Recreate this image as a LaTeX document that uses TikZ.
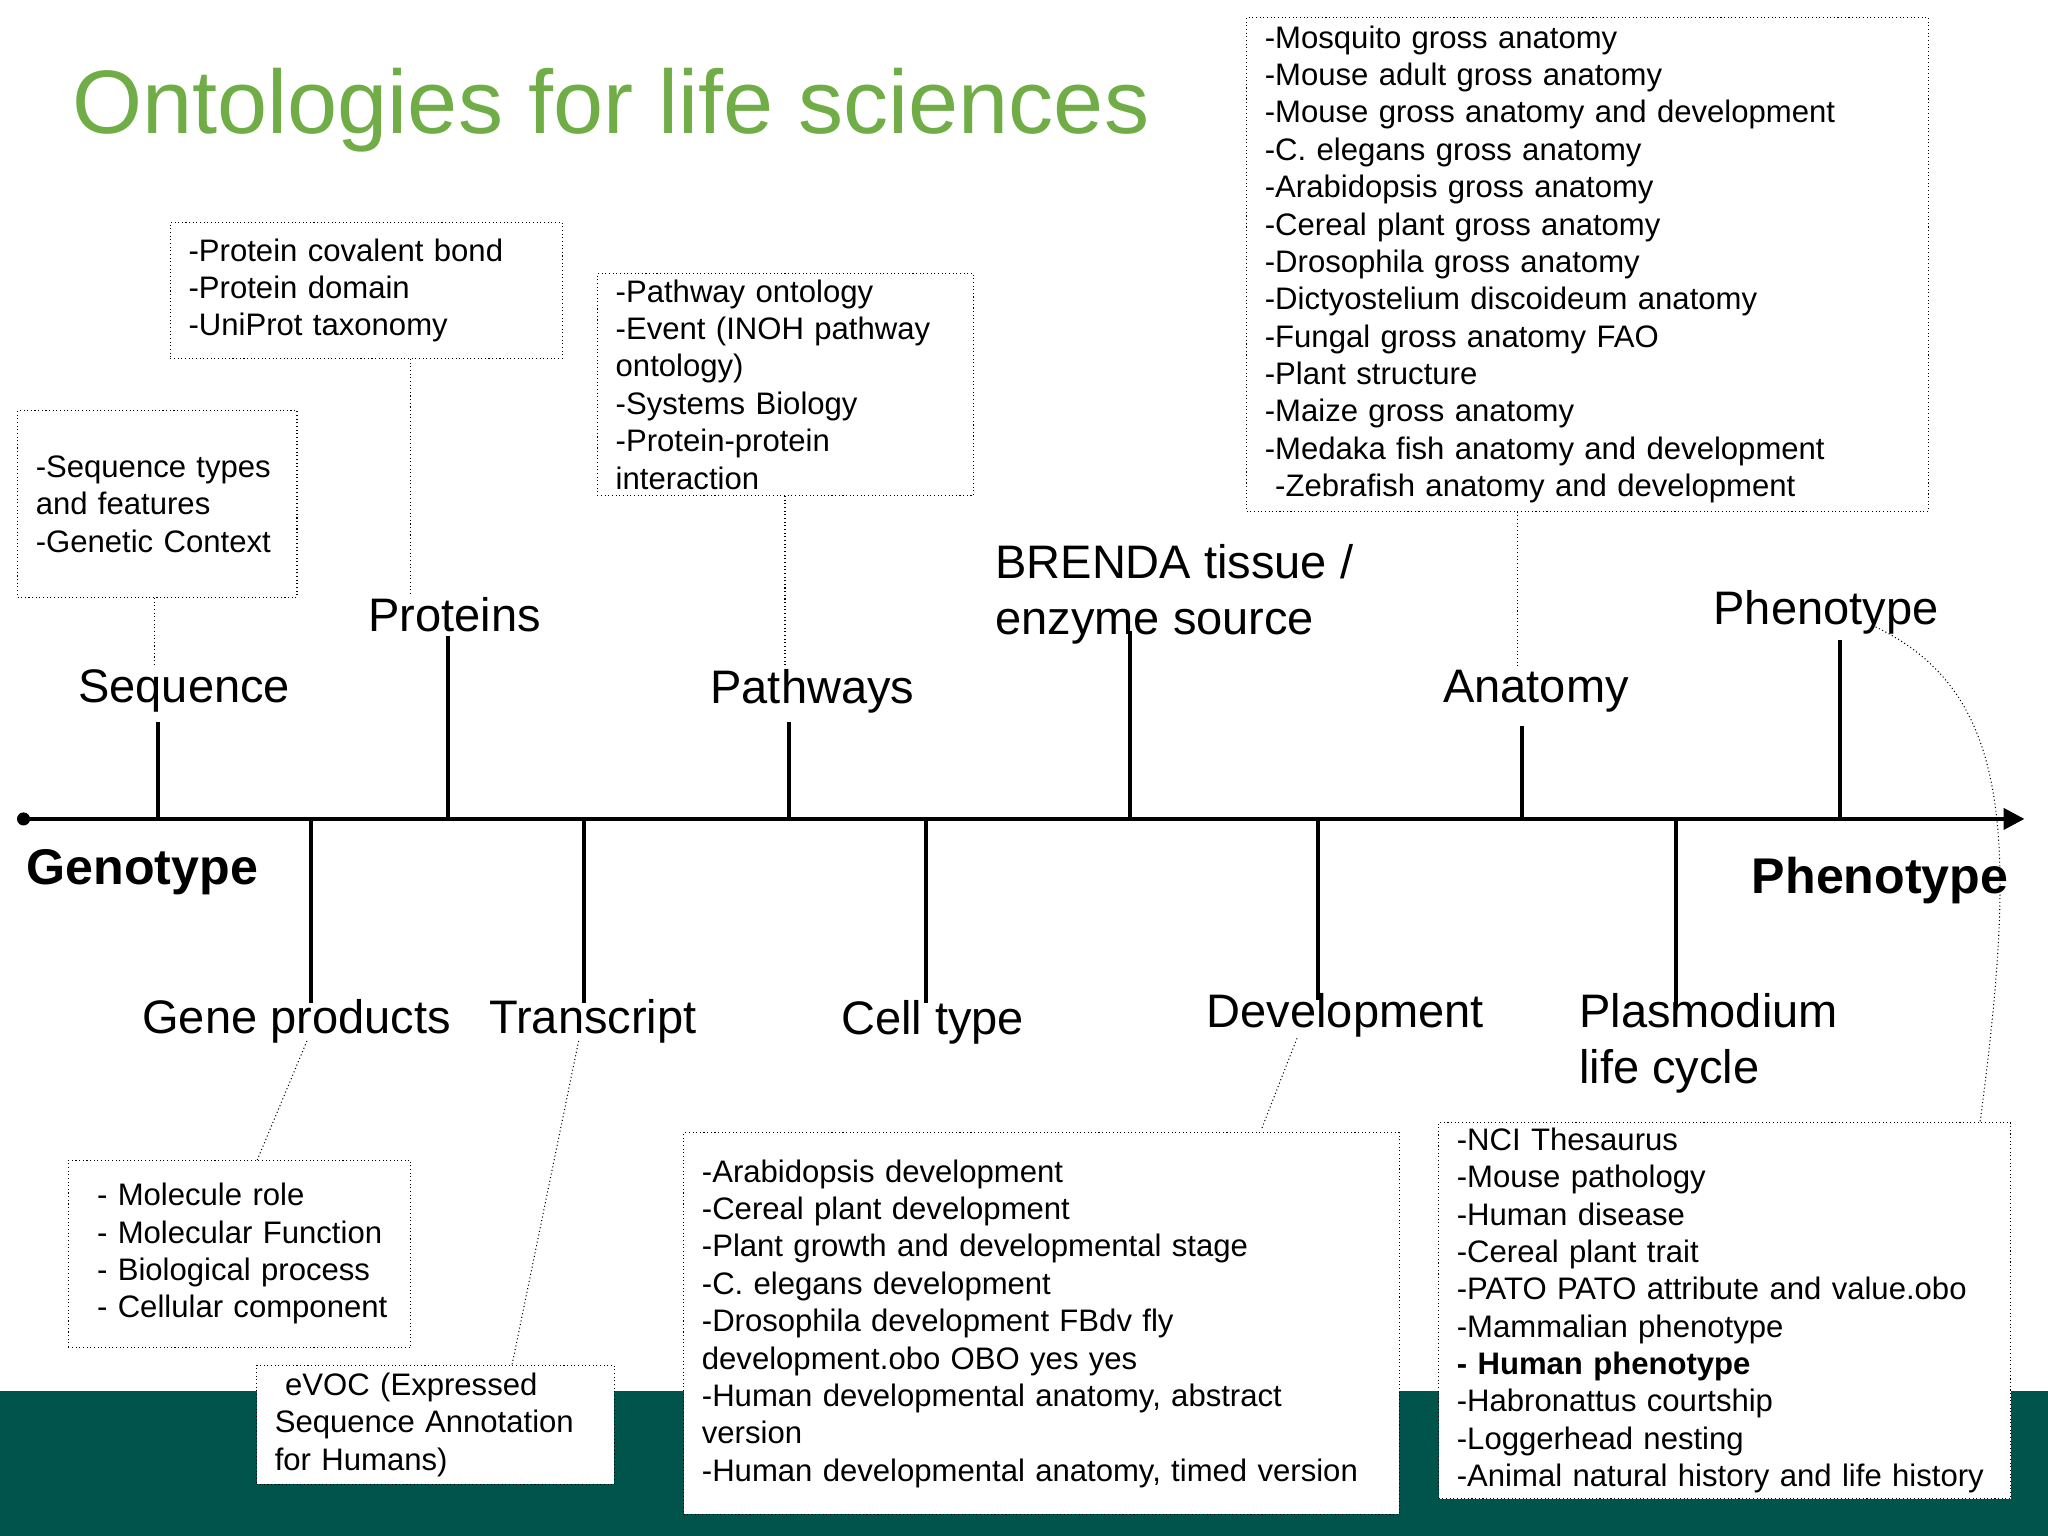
\documentclass[tikz,border=0pt]{standalone}
\usepackage{fontspec}
\setmainfont{Liberation Sans}
\usetikzlibrary{arrows.meta}
\definecolor{titlegreen}{RGB}{112,173,71}
\definecolor{band}{RGB}{0,84,75}
\begin{document}
\begin{tikzpicture}[x=0.5pt,y=-0.5pt,
  listbox/.style={draw,densely dotted,fill=white,anchor=north west,align=left,inner xsep=7pt,inner ysep=0pt,font=\fontsize{11.9}{14.3}\selectfont},
  lab/.style={font=\fontsize{18}{21.5}\selectfont},
  tick/.style={line width=1.6pt},
  conn/.style={densely dotted,thin}]
\useasboundingbox (0,0) rectangle (1568,1176);
\fill[band] (0,1065) rectangle (1568,1176);
\node[anchor=west,text=titlegreen,font=\fontsize{34.5}{40}\selectfont,inner sep=0pt] (title) at (55,84) {Ontologies for life sciences};
% boxes
\node[listbox,text width=136pt,minimum height=52pt] (b1) at (130,170) {-Protein covalent bond\\-Protein domain\\-UniProt taxonomy};
\node[listbox,text width=93pt,minimum height=71.5pt] (b2) at (13,314) {-Sequence types\\and features\\-Genetic Context};
\node[listbox,text width=130pt,minimum height=85pt] (b3) at (457,209) {-Pathway ontology\\-Event (INOH pathway\\ontology)\\-Systems Biology\\-Protein-protein\\interaction};
\node[listbox,text width=247pt,minimum height=189pt] (b4) at (954,13) {-Mosquito gross anatomy\\-Mouse adult gross anatomy\\-Mouse gross anatomy and development\\-C. elegans gross anatomy\\-Arabidopsis gross anatomy\\-Cereal plant gross anatomy\\-Drosophila gross anatomy\\-Dictyostelium discoideum anatomy\\-Fungal gross anatomy FAO\\-Plant structure\\-Maize gross anatomy\\-Medaka fish anatomy and development\\\ -Zebrafish anatomy and development};
\node[listbox,text width=117pt,minimum height=71.5pt] (b5) at (52,888) {\ - Molecule role\\\ - Molecular Function\\\ - Biological process\\\ - Cellular component};
\node[listbox,text width=123pt,minimum height=45.5pt] (b6) at (196,1045) {\ eVOC (Expressed\\Sequence Annotation\\for Humans)};
\node[listbox,text width=260pt,minimum height=146pt] (b7) at (523,867) {-Arabidopsis development\\-Cereal plant development\\-Plant growth and developmental stage\\-C. elegans development\\-Drosophila development FBdv fly\\development.obo OBO yes yes\\-Human developmental anatomy, abstract\\version\\-Human developmental anatomy, timed version};
\node[listbox,text width=205pt,minimum height=144pt] (b8) at (1101,859) {-NCI Thesaurus\\-Mouse pathology\\-Human disease\\-Cereal plant trait\\-PATO PATO attribute and value.obo\\-Mammalian phenotype\\\textbf{- Human phenotype}\\-Habronattus courtship\\-Loggerhead nesting\\-Animal natural history and life history};
% axis
\coordinate (a0) at (18,627);
\coordinate (a1) at (1550,627);
\fill (a0) circle (2.5pt);
\draw[line width=1.6pt,-{Triangle[length=8pt,width=8pt]}] (a0) -- (a1);
\node[anchor=west,inner sep=0pt,font=\bfseries\fontsize{19.2}{24}\selectfont] (geno) at (20,668) {Genotype};
\node[anchor=east,inner sep=0pt,font=\bfseries\fontsize{19.2}{24}\selectfont] (pheno) at (1538,674) {Phenotype};
% upper labels
\node[lab] (seq) at (141,529) {Sequence};
\node[lab] (prot) at (348,471) {Proteins};
\node[lab] (path) at (622,529) {Pathways};
\node[lab,anchor=west,align=left] (brenda) at (755,455) {BRENDA tissue /\\enzyme source};
\node[lab] (anat) at (1176,529) {Anatomy};
\node[lab] (phen) at (1398,469) {Phenotype};
% lower labels
\node[lab] (gene) at (227,782) {Gene products};
\node[lab] (trans) at (454,782) {Transcript};
\node[lab] (cell) at (714,783) {Cell type};
\node[lab] (dev) at (1030,777) {Development};
\node[lab,anchor=west,align=left] (plas) at (1202,799) {Plasmodium\\life cycle};
% ticks
\foreach \x/\t/\n in {121/553/ts,343/487/tp,604/553/tw,865/483/tb,1165/556/ta,1409/490/tf,238/768/tg,447/768/tt,709/768/tc,1009/766/td,1283/770/tl}{
  \coordinate (\n) at (\x,\t);
  \draw[tick] (\x,627) -- (\n);}
% dotted connectors
\draw[conn] (b2.south -| 118,0) -- (118,510);
\draw[conn] (b1.south -| 314,0) -- (314,455);
\draw[conn] (b3.south -| 601,0) -- (601,510);
\draw[conn] (b4.south -| 1162,0) -- (1162,510);
\draw[conn] (235,797) -- (b5.north -| 197,0);
\draw[conn] (443,797) -- (b6.north -| 392,0);
\draw[conn] (993,795) -- (966,864);
\draw[conn] (1436,480) .. controls (1540,530) and (1545,640) .. (b8.north -| 1516,0);
\end{tikzpicture}
\end{document}
